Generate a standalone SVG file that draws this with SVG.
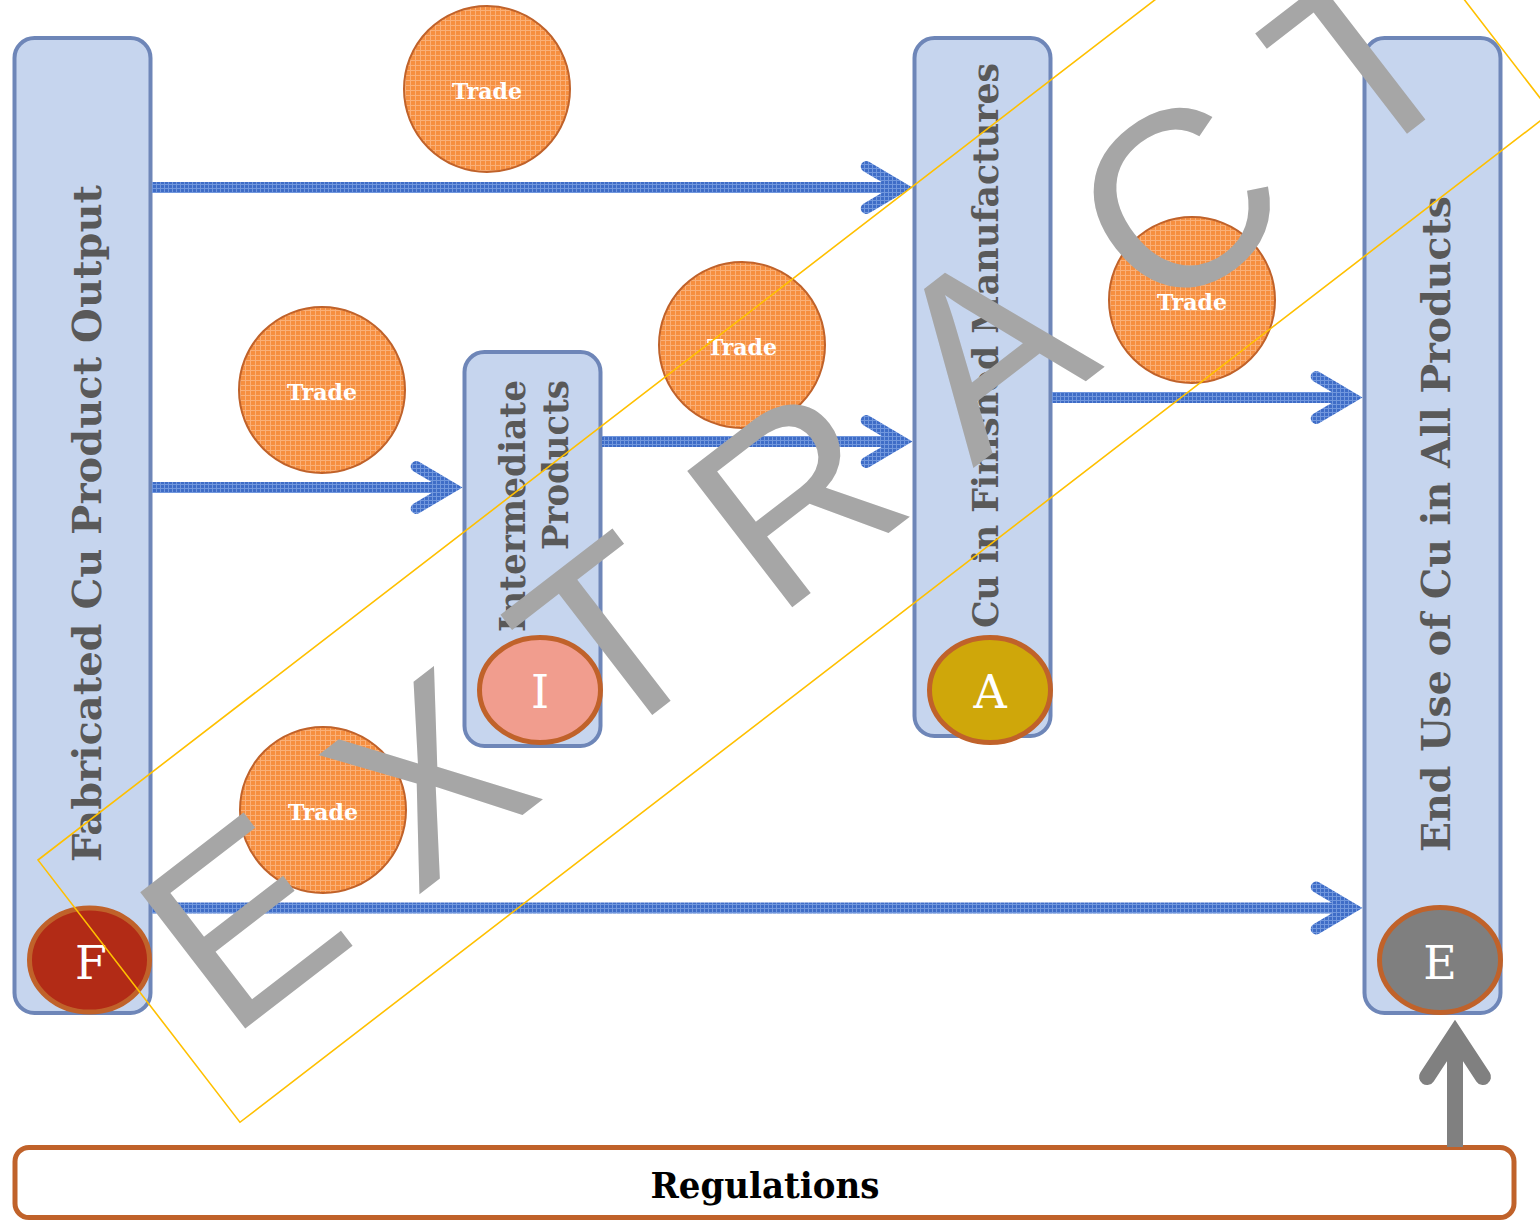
<svg xmlns="http://www.w3.org/2000/svg" width="1540" height="1221" viewBox="0 0 1540 1221">
  <defs>
    <!-- fine woven texture for the flow arrows -->
    <pattern id="blueGrid" patternUnits="userSpaceOnUse" width="4" height="4">
      <rect width="4" height="4" fill="#3F6DC7"/>
      <rect width="4" height="1" fill="#7197DD"/>
      <rect width="1" height="4" fill="#7197DD"/>
    </pattern>
    <!-- fine woven texture for the trade bubbles -->
    <pattern id="orangeGrid" patternUnits="userSpaceOnUse" width="5" height="5">
      <rect width="5" height="5" fill="#F68F40"/>
      <rect width="5" height="1" fill="#FAB078"/>
      <rect width="1" height="5" fill="#FAB078"/>
    </pattern>
    <style>
      .bar { fill: #C6D5EE; stroke: #6E86B8; stroke-width: 4; }
      .barText { font-family: "DejaVu Serif", "Liberation Serif", serif; font-weight: bold; fill: #595959; }
      .badge { stroke: #C0622A; stroke-width: 5; }
      .badgeText { font-family: "DejaVu Serif", "Liberation Serif", serif; font-size: 46px; fill: #FFFFFF; text-anchor: middle; }
      .trade { fill: url(#orangeGrid); stroke: #C0622A; stroke-width: 2; }
      .tradeText { font-family: "DejaVu Serif", "Liberation Serif", serif; font-weight: bold; font-size: 22px; fill: #FFFFFF; text-anchor: middle; }
      .flow { fill: none; stroke: url(#blueGrid); stroke-width: 11; stroke-linecap: round; stroke-linejoin: miter; }
      .flowShaft { stroke-linecap: butt; }
    </style>
  </defs>

  <rect width="1540" height="1221" fill="#FFFFFF"/>

  <!-- Stage bars -->
  <g id="fabricated-output">
    <rect class="bar" x="14.5" y="38" width="136" height="975" rx="20"/>
    <text class="barText" font-size="40" text-anchor="middle" textLength="677" lengthAdjust="spacingAndGlyphs" transform="translate(101,523.5) rotate(-90)">Fabricated Cu Product Output</text>
    <ellipse class="badge" cx="89.5" cy="960" rx="60" ry="52" fill="#B22B16"/>
    <text class="badgeText" x="91" y="979">F</text>
  </g>

  <g id="intermediate-products">
    <rect class="bar" x="464.5" y="352" width="136" height="394" rx="20"/>
    <text class="barText" font-size="35" text-anchor="end" textLength="252" lengthAdjust="spacingAndGlyphs" transform="translate(525,380) rotate(-90)">Intermediate</text>
    <text class="barText" font-size="35" text-anchor="end" textLength="170" lengthAdjust="spacingAndGlyphs" transform="translate(568,380) rotate(-90)">Products</text>
    <ellipse class="badge" cx="540" cy="690" rx="60.5" ry="52.5" fill="#F19D8E"/>
    <text class="badgeText" x="540" y="708">I</text>
  </g>

  <g id="finished-manufactures">
    <rect class="bar" x="914.5" y="38" width="136" height="698" rx="20"/>
    <text class="barText" font-size="35" text-anchor="start" textLength="565" lengthAdjust="spacingAndGlyphs" transform="translate(998,628) rotate(-90)">Cu in Finished Manufactures</text>
    <ellipse class="badge" cx="990" cy="690" rx="60.5" ry="52.5" fill="#CFA70A"/>
    <text class="badgeText" x="990" y="708">A</text>
  </g>

  <g id="end-use">
    <rect class="bar" x="1364.5" y="38" width="136" height="975" rx="20"/>
    <text class="barText" font-size="40" text-anchor="middle" textLength="656" lengthAdjust="spacingAndGlyphs" transform="translate(1450,524) rotate(-90)">End Use of Cu in All Products</text>
    <ellipse class="badge" cx="1440" cy="960" rx="60.5" ry="52.5" fill="#7F7F7F"/>
    <text class="badgeText" x="1440" y="979">E</text>
  </g>

  <!-- Trade bubbles -->
  <g id="trade-1">
    <circle class="trade" cx="487" cy="89" r="83"/>
    <text class="tradeText" x="487" y="99">Trade</text>
  </g>
  <g id="trade-2">
    <circle class="trade" cx="322" cy="390" r="83"/>
    <text class="tradeText" x="322" y="400">Trade</text>
  </g>
  <g id="trade-3">
    <circle class="trade" cx="742" cy="345" r="83"/>
    <text class="tradeText" x="742" y="355">Trade</text>
  </g>
  <g id="trade-4">
    <circle class="trade" cx="1192" cy="300" r="83"/>
    <text class="tradeText" x="1192" y="310">Trade</text>
  </g>
  <g id="trade-5">
    <circle class="trade" cx="323" cy="810" r="83"/>
    <text class="tradeText" x="323" y="820">Trade</text>
  </g>

  <!-- Regulations bar -->
  <g id="regulations">
    <rect x="15" y="1147.5" width="1499" height="70" rx="14" fill="#FFFFFF" stroke="#C0622A" stroke-width="5"/>
    <text x="765" y="1198" font-family="DejaVu Serif, Liberation Serif, serif" font-weight="bold" font-size="35" fill="#000000" text-anchor="middle" textLength="229" lengthAdjust="spacingAndGlyphs">Regulations</text>
  </g>

  <!-- Connectors -->
  <g id="connectors">
    <path class="flow flowShaft" d="M152 187.5 H902"/>
    <path class="flow" d="M866.2 166.5 L901.7 187.5 L866.2 208.5"/>

    <path class="flow flowShaft" d="M152 487.5 H452"/>
    <path class="flow" d="M416.2 466.5 L451.7 487.5 L416.2 508.5"/>

    <path class="flow flowShaft" d="M602 441.5 H902"/>
    <path class="flow" d="M866.2 420.5 L901.7 441.5 L866.2 462.5"/>

    <path class="flow flowShaft" d="M1052 397.5 H1352"/>
    <path class="flow" d="M1316.2 376.5 L1351.7 397.5 L1316.2 418.5"/>

    <path class="flow flowShaft" d="M152 908 H1352"/>
    <path class="flow" d="M1316.2 887 L1351.7 908 L1316.2 929"/>

    <path d="M1455 1147 V1036" fill="none" stroke="#808080" stroke-width="16"/>
    <path d="M1427 1077 L1455 1034.4 L1483 1077" fill="none" stroke="#808080" stroke-width="16" stroke-linecap="round" stroke-linejoin="miter"/>
  </g>

  <!-- Diagonal stamp across the page -->
  <g id="stamp" transform="translate(38,860) rotate(-37.6)">
    <rect x="0" y="0" width="1655" height="331" fill="none" stroke="#FFC000" stroke-width="1.6"/>
    <text x="41" y="260" font-family="Liberation Sans, Arial, sans-serif" font-size="250" letter-spacing="68" fill="#A6A6A6">EXTRACT</text>
  </g>
</svg>
